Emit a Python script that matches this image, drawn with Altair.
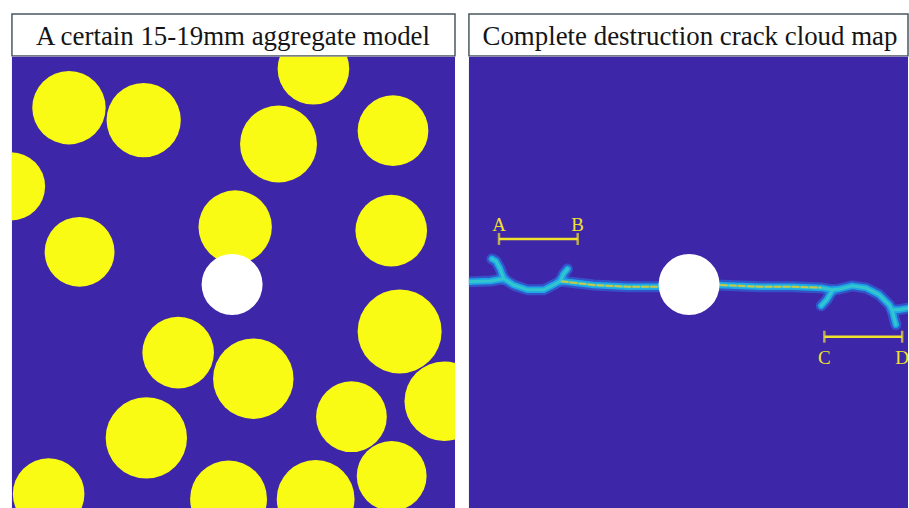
import altair as alt
import pandas as pd

# ---------------------------------------------------------------------------
# Layout: both panels share a single millimetre-to-pixel ratio
# ---------------------------------------------------------------------------
PX_PER_MM = 4.44
TITLE_H = 42
LEFT_W, RIGHT_W = 445, 441
PANEL_H = 454

BLUE = "#3e26a8"
YELLOW = "#f9fb15"
MARK_YELLOW = "#f0e22c"
SERIF = "Liberation Serif"

TITLE_LEFT = "A certain 15-19mm aggregate model"
TITLE_RIGHT = "Complete destruction crack cloud map"

# ---------------------------------------------------------------------------
# Aggregate particles (centre x, centre y, radius), mm from the panel's top-left
# ---------------------------------------------------------------------------
AGG_X = [12.9, 29.8, 68.2, 60.3, 86.2, -0.2, 50.5, 15.3, 85.8, 87.7,
         37.6, 54.6, 97.8, 76.8, 30.4, 85.9, 8.3, 49.0, 68.7]
AGG_Y = [11.5, 14.3, 2.7, 19.7, 16.7, 29.3, 38.5, 44.1, 39.3, 62.1,
         66.9, 72.8, 77.9, 81.4, 86.2, 94.8, 98.9, 100.0, 100.0]
AGG_R = [8.3, 8.4, 8.1, 8.7, 8.0, 7.7, 8.3, 7.9, 8.1, 9.5,
         8.1, 9.1, 9.0, 8.0, 9.2, 7.9, 8.1, 8.7, 8.8]

# Central hole
HOLE_X = [49.8]
HOLE_Y = [51.5]
HOLE_R = [6.9]

# ---------------------------------------------------------------------------
# Crack paths (mm), one list of (x, y) vertices per branch
# ---------------------------------------------------------------------------
CRACK_WEST = [(-0.3, 50.9), (4.9, 50.7), (7.9, 50.2), (10.1, 51.6), (13.3, 52.7),
              (16.9, 52.7), (19.1, 51.6), (20.7, 50.7), (28.2, 51.6),
              (35.8, 52.0), (43.5, 52.0)]
CRACK_WEST_HOOK = [(7.9, 50.2), (7.0, 47.8), (6.1, 46.2), (5.2, 45.7)]
CRACK_WEST_SPUR = [(20.7, 50.7), (21.4, 49.1), (22.3, 48.0)]
CRACK_EAST = [(56.2, 51.6), (65.8, 52.0), (73.2, 52.0), (80.0, 52.3), (82.2, 52.7),
              (83.8, 52.5), (86.7, 51.8), (89.9, 52.3), (92.8, 53.8),
              (95.1, 56.1), (95.7, 57.2), (97.3, 57.2), (99.6, 56.8)]
CRACK_EAST_SPUR = [(82.2, 52.9), (80.9, 55.0), (79.7, 56.3)]
CRACK_EAST_TAIL = [(95.7, 57.2), (96.2, 59.2), (96.6, 60.6)]

# Hot cores along the straight stretches either side of the hole
CORE_WEST = [(21.0, 50.8), (28.2, 51.6), (35.8, 52.0), (42.5, 52.0)]
CORE_EAST = [(57.0, 51.6), (65.8, 52.0), (73.2, 52.0), (79.5, 52.2)]

# Measurement bars A-B and C-D
MARK_LABELS = ["A", "B", "C", "D"]
MARK_X = [6.8, 24.6, 80.4, 98.0]
MARK_Y = [41.2, 41.2, 63.3, 63.3]
BAR_X1 = [6.8, 80.4]
BAR_X2 = [24.6, 98.0]
BAR_Y = [41.2, 63.3]


def paths_frame(paths):
    rows = []
    for name, pts in paths.items():
        for i, (x, y) in enumerate(pts):
            rows.append({"seg": name, "i": i, "x": x, "y": y})
    return pd.DataFrame(rows)


cracks = paths_frame({
    "west": CRACK_WEST, "west_hook": CRACK_WEST_HOOK, "west_spur": CRACK_WEST_SPUR,
    "east": CRACK_EAST, "east_spur": CRACK_EAST_SPUR, "east_tail": CRACK_EAST_TAIL,
})
cores = paths_frame({"core_w": CORE_WEST, "core_e": CORE_EAST})

aggregates = pd.DataFrame({"x": AGG_X, "y": AGG_Y, "r": AGG_R})
hole = pd.DataFrame({"x": HOLE_X, "y": HOLE_Y, "r": HOLE_R})
marks = pd.DataFrame({"label": MARK_LABELS, "x": MARK_X, "y": MARK_Y})
bars = pd.DataFrame({"x1": BAR_X1, "x2": BAR_X2, "y": BAR_Y})

# Vega's circle symbol has radius sqrt(size) / 2, so size = 4 * (r * PX_PER_MM)^2;
# expressed as a linear size scale on r^2
SIZE_SCALE = alt.Scale(domain=[0, 100], range=[0, 4 * 100 * PX_PER_MM ** 2])


def xy(width):
    x = alt.X("x:Q", axis=None,
              scale=alt.Scale(domain=[0, width / PX_PER_MM], nice=False, zero=False))
    y = alt.Y("y:Q", axis=None,
              scale=alt.Scale(domain=[0, PANEL_H / PX_PER_MM], nice=False,
                              zero=False, reverse=True))
    return x, y


def discs(df, color, width):
    x, y = xy(width)
    return alt.Chart(df).transform_calculate(area="datum.r * datum.r").mark_circle(
        color=color, opacity=1, clip=True
    ).encode(
        x=x, y=y,
        size=alt.Size("area:Q", scale=SIZE_SCALE, legend=None),
    )


def title_box(text, width):
    return alt.Chart(alt.Data(values=[{"label": text}])).mark_text(
        font=SERIF, fontSize=27, color="#151515", align="center", baseline="alphabetic"
    ).encode(
        x=alt.value(222), y=alt.value(31), text="label:N"
    ).properties(
        width=width, height=TITLE_H,
        view=alt.ViewBackground(fill="white", stroke="#4a5860", strokeWidth=1.5),
    )


# ---- left panel: aggregate model ----
left_panel = alt.layer(
    discs(aggregates, YELLOW, LEFT_W),
    discs(hole, "white", LEFT_W),
).properties(
    width=LEFT_W, height=PANEL_H,
    view=alt.ViewBackground(fill=BLUE, strokeWidth=0),
)

# ---- right panel: crack cloud ----
xr, yr = xy(RIGHT_W)


def crack_layer(df, color, width, opacity=1.0, dash=None):
    kw = dict(color=color, strokeWidth=width, opacity=opacity, strokeCap="round",
              strokeJoin="round", clip=True)
    if dash:
        kw["strokeDash"] = dash
    return alt.Chart(df).mark_line(**kw).encode(
        x=xr, y=yr, detail="seg:N", order="i:Q"
    )


label_style = dict(font=SERIF, fontSize=19, color=MARK_YELLOW, baseline="alphabetic")

right_panel = alt.layer(
    crack_layer(cracks, "#2a7fe8", 11, 0.5),
    crack_layer(cracks, "#1ea6e6", 6.5),
    crack_layer(cracks, "#33c6cf", 3),
    crack_layer(cores, "#d8c63a", 2, 0.9, [6, 3]),
    discs(hole, "white", RIGHT_W),
    alt.Chart(bars).mark_rule(color=MARK_YELLOW, strokeWidth=2.5).encode(
        x=xr, x2="x2:Q", y=yr
    ).transform_calculate(x="datum.x1"),
    alt.Chart(marks).mark_tick(color=MARK_YELLOW, orient="vertical", size=12,
                               thickness=2.5).encode(x=xr, y=yr),
    alt.Chart(marks).transform_filter("datum.y < 50").mark_text(
        dy=-8, **label_style
    ).encode(x=xr, y=yr, text="label:N"),
    alt.Chart(marks).transform_filter("datum.y > 50").mark_text(
        dy=27, **label_style
    ).encode(x=xr, y=yr, text="label:N"),
).properties(
    width=RIGHT_W, height=PANEL_H,
    view=alt.ViewBackground(fill=BLUE, strokeWidth=0),
)

chart = alt.hconcat(
    alt.vconcat(title_box(TITLE_LEFT, LEFT_W), left_panel, spacing=0),
    alt.vconcat(title_box(TITLE_RIGHT, RIGHT_W), right_panel, spacing=0),
    spacing=12,
).properties(
    padding={"left": 11, "top": 12, "right": 0, "bottom": 0},
    background="white",
).configure_view(strokeWidth=0)

chart.save("out.html", embed_options={"renderer": "svg", "actions": False})
